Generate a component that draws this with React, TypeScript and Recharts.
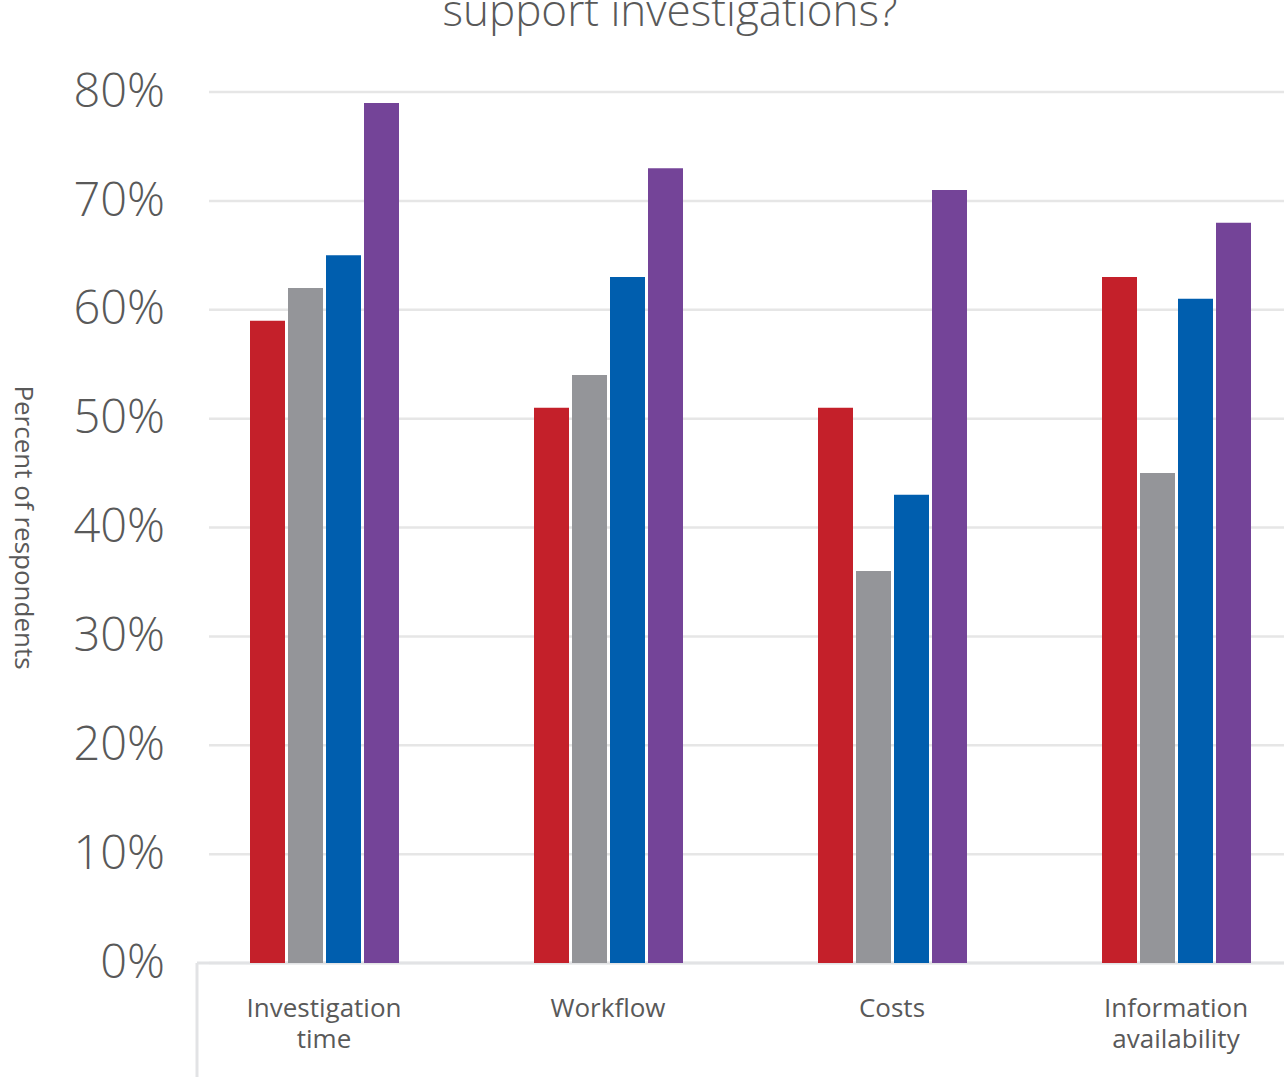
import { Bar, BarChart, CartesianGrid, XAxis, YAxis, usePlotArea } from "recharts";

const categories = ["Investigation time", "Workflow", "Costs", "Information availability"];
const seriesA = [59, 51, 51, 63];
const seriesB = [62, 54, 36, 45];
const seriesC = [65, 63, 43, 61];
const seriesD = [79, 73, 71, 68];
const yTicks = [0, 10, 20, 30, 40, 50, 60, 70, 80];
const seriesKeys = ["a", "b", "c", "d"];
const seriesColors = ["#c4202a", "#949599", "#005eae", "#744498"];

const rows = categories.map((name, i) => ({
  name, a: seriesA[i], b: seriesB[i], c: seriesC[i], d: seriesD[i],
}));

const font = "'Open Sans', sans-serif";
const textGrey = "#595959";

function CategoryTick(props: any) {
  const { x, y, payload } = props;
  const lines = String(payload.value).split(" ");
  return (
    <text x={x} y={y} textAnchor="middle" fill={textGrey} fontSize={26} fontFamily={font}>
      {lines.map((l, i) => (
        <tspan key={i} x={x} dy={i === 0 ? 19 : 31}>{l}</tspan>
      ))}
    </text>
  );
}

// axis line + left divider below the plot, and the rotated y title
function AxisFrame() {
  const area = usePlotArea();
  if (!area) return null;
  const bottom = area.y + area.height;
  const x0 = area.x + 15;
  const cy = area.y + area.height / 2;
  return (
    <g>
      <line x1={x0} y1={bottom} x2={area.x + area.width} y2={bottom} stroke="#e2e3e5" strokeWidth={3} />
      <line x1={x0} y1={bottom} x2={x0} y2={bottom + 140} stroke="#e2e3e5" strokeWidth={3} />
      <text x={25} y={cy} transform={`rotate(90 25 ${cy})`} textAnchor="middle" dominantBaseline="central"
            fill={textGrey} fontSize={26} fontFamily={font}>
        Percent of respondents
      </text>
    </g>
  );
}

export default function App() {
  return (
    <div style={{ position: "absolute", left: 0, top: 0, width: 1284, height: 1077, overflow: "hidden", background: "#fff" }}>
      <div style={{ position: "absolute", left: 0, top: -13, width: 1340, textAlign: "center", fontFamily: font,
                    fontWeight: 300, fontSize: 44, lineHeight: "44px", color: textGrey }}>
        support investigations?
      </div>
      <BarChart width={1318} height={1077} data={rows} barSize={35} barGap={3}
                margin={{ top: 92, right: 0, bottom: 0, left: 0 }}>
        <CartesianGrid vertical={false}
                       horizontal={(p: any) => (
                         <line key={`g-${p.y1}`} x1={p.x1 + 27} y1={p.y1} x2={p.x2} y2={p.y2}
                               stroke="#e6e6e6" strokeWidth={2.5} />
                       )} />
        <XAxis dataKey="name" height={114} axisLine={false} tickLine={false} tickMargin={29}
               interval={0} tick={<CategoryTick />} />
        <YAxis width={182} domain={[0, 80]} ticks={yTicks} axisLine={false} tickLine={false} tickMargin={11}
               tickFormatter={(v: number) => `${v}%`}
               tick={{ fontSize: 47, fontWeight: 300, fontFamily: font, fill: textGrey, dy: -2 }} />
        {seriesKeys.map((k, i) => (
          <Bar key={k} dataKey={k} fill={seriesColors[i]} isAnimationActive={false} />
        ))}
        <AxisFrame />
      </BarChart>
    </div>
  );
}
